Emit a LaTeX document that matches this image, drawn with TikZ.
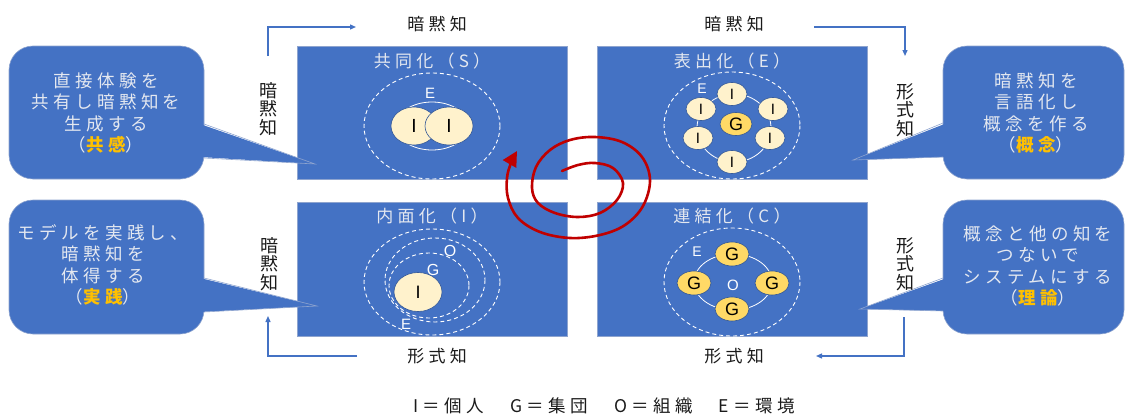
\documentclass[tikz,border=0pt]{standalone}
\usepackage{fontspec}
\setmainfont{Noto Sans CJK JP}[LetterSpace=25]
\newfontfamily\jpn{Noto Sans CJK JP}
\newfontfamily\lat{Liberation Sans}
\usetikzlibrary{arrows.meta,shapes.geometric}
\definecolor{boxblue}{HTML}{4472C4}
\definecolor{qedge}{HTML}{8EA4CF}
\definecolor{paletext}{HTML}{E4E8F0}
\definecolor{goldtext}{HTML}{FFC000}
\definecolor{cream}{HTML}{FFF2CC}
\definecolor{goldfill}{HTML}{FFD966}
\definecolor{cedge}{HTML}{2F5597}
\definecolor{spiralred}{HTML}{C00000}
\definecolor{labk}{HTML}{1A1A1A}
\begin{document}
\begin{tikzpicture}[x=1pt,y=-1pt,
  quad/.style={draw=qedge,line width=0.6pt,fill=boxblue,minimum width=270,minimum height=133,inner sep=0},
  qtitle/.style={text=paletext,font=\fontsize{17}{20}\selectfont,inner sep=0},
  bubble/.style={fill=boxblue,draw=qedge,line width=0.6pt,rounded corners=24,inner sep=0},
  bubtext/.style={text=paletext,align=center,font=\fontsize{17.5}{21.5}\selectfont,inner sep=0},
  vlabel/.style={align=center,font=\jpn\fontsize{18}{18.5}\selectfont,text=labk,inner sep=0},
  hlabel/.style={font=\fontsize{17}{20}\selectfont,text=labk,inner sep=0},
  flowarrow/.style={draw=boxblue,line width=1.3pt,-{Triangle[length=6pt,width=5pt]}},
  envline/.style={draw=white,dash pattern=on 4pt off 3pt,line width=0.9pt},
  ringline/.style={draw=white,line width=0.8pt},
  indiv/.style={ellipse,fill=cream,draw=cedge,line width=0.6pt,inner sep=0,text=black},
  grp/.style={ellipse,fill=goldfill,draw=cedge,line width=0.6pt,inner sep=0,text=black},
  letterlab/.style={text=white,font=\lat\fontsize{15}{15}\selectfont,inner sep=0},
  spiralline/.style={draw=spiralred,line width=2.6pt,line cap=round,-{Triangle[length=15pt,width=15pt]}}
]
\useasboundingbox (0,0) rectangle (1126,415);

% ---- quadrant boxes
\node[quad] (S) at (432,112.5) {};
\node[quad] (E) at (732,112.5) {};
\node[quad,minimum height=134] (I) at (432,269) {};
\node[quad,minimum height=134] (C) at (732,269) {};

\node[qtitle] (St) at (432,61) {共同化（S）};
\node[qtitle] (Et) at (732,61) {表出化（E）};
\node[qtitle] (It) at (432,216) {内面化（I）};
\node[qtitle] (Ct) at (732,216) {連結化（C）};

% ---- Socialization content
\draw[envline] (432,126) ellipse [x radius=68, y radius=53];
\draw[ringline] (432,126) ellipse [x radius=36, y radius=24];
\node[letterlab] (SE) at (430,93) {E};
\node[indiv,minimum width=46,minimum height=38,font=\lat\fontsize{19}{19}\selectfont] (S1) at (414,126) {I};
\node[indiv,minimum width=48,minimum height=38,font=\lat\fontsize{19}{19}\selectfont] (S2) at (449,126) {I};

% ---- Externalization content
\draw[envline] (732,125.5) ellipse [x radius=68, y radius=53.5];
\draw[ringline] (734,128) ellipse [x radius=37, y radius=34];
\node[letterlab,font=\lat\fontsize{14}{14}\selectfont] (EE) at (702,89) {E};
\node[grp,minimum width=32,minimum height=23,font=\lat\fontsize{18}{18}\selectfont] (EG) at (736,124) {G};
\foreach \n/\p in {e1/{(732,94)},e2/{(701,109)},e3/{(773,109)},e4/{(698,138)},e5/{(770,138)},e6/{(732,162)}}
  \node[indiv,minimum width=30,minimum height=23,font=\lat\fontsize{15}{15}\selectfont] (\n) at \p {I};

% ---- Internalization content
\draw[envline] (432,282) ellipse [x radius=68, y radius=53];
\draw[envline] (435,280) ellipse [x radius=50, y radius=42];
\draw[envline] (429,285.5) ellipse [x radius=40, y radius=32.5];
\node[letterlab,font=\lat\fontsize{16}{16}\selectfont] (IO) at (450,251) {O};
\node[letterlab,font=\lat\fontsize{16}{16}\selectfont] (IG) at (433,270) {G};
\node[letterlab,font=\lat\fontsize{15}{15}\selectfont] (IE) at (406,324) {E};
\node[indiv,minimum width=48,minimum height=39,font=\lat\fontsize{18}{18}\selectfont] (I1) at (418,292) {I};

% ---- Combination content
\draw[envline] (732,282) ellipse [x radius=68, y radius=54];
\draw[ringline] (733,282) ellipse [x radius=39, y radius=28];
\node[letterlab,font=\lat\fontsize{14}{14}\selectfont] (CE) at (697,252) {E};
\node[letterlab,font=\lat\fontsize{15}{15}\selectfont] (CO) at (733,285) {O};
\foreach \n/\p in {g1/{(732,254)},g2/{(694,283)},g3/{(772,283)},g4/{(732,309)}}
  \node[grp,minimum width=34,minimum height=24,font=\lat\fontsize{18}{18}\selectfont] (\n) at \p {G};

% ---- callouts
\node[bubble,minimum width=195,minimum height=133] (cS) at (106.5,112.5) {};
\fill[boxblue] (200,124) -- (315,164) -- (200,157) -- cycle;
\draw[qedge,line width=0.6pt] (204,124) -- (315,164) -- (204,158);
\node[bubtext] (cSt) at (106,113) {直接体験を\\共有し暗黙知を\\生成する\\（\textcolor{goldtext}{\bfseries 共感}）};

\node[bubble,minimum width=181,minimum height=133] (cE) at (1033.5,112.5) {};
\fill[boxblue] (947,123) -- (853,160) -- (947,157) -- cycle;
\draw[qedge,line width=0.6pt] (943,123) -- (853,160) -- (943,157);
\node[bubtext] (cEt) at (1036,113) {暗黙知を\\言語化し\\概念を作る\\（\textcolor{goldtext}{\bfseries 概念}）};

\node[bubble,minimum width=195,minimum height=134] (cI) at (106.5,267) {};
\fill[boxblue] (200,278) -- (317,306) -- (200,312) -- cycle;
\draw[qedge,line width=0.6pt] (204,278) -- (317,306) -- (204,312);
\node[bubtext] (cIt) at (103,265) {モデルを実践し、\\暗黙知を\\体得する\\（\textcolor{goldtext}{\bfseries 実践}）};

\node[bubble,minimum width=181,minimum height=134] (cC) at (1033.5,267) {};
\fill[boxblue] (947,278) -- (860,309) -- (947,311) -- cycle;
\draw[qedge,line width=0.6pt] (943,278) -- (860,309) -- (943,311);
\node[bubtext] (cCt) at (1038,266) {概念と他の知を\\つないで\\システムにする\\（\textcolor{goldtext}{\bfseries 理論}）};

% ---- side labels
\node[vlabel] (vS) at (268,109) {暗\\黙\\知};
\node[vlabel] (vE) at (905,110) {形\\式\\知};
\node[vlabel] (vI) at (269,264) {暗\\黙\\知};
\node[vlabel] (vC) at (905,264) {形\\式\\知};

\node[hlabel] (tS) at (437,24) {暗黙知};
\node[hlabel] (tE) at (734,24) {暗黙知};
\node[hlabel] (bI) at (437,356) {形式知};
\node[hlabel] (bC) at (734,356) {形式知};

% ---- flow connectors
\coordinate (a1) at (268,56); \coordinate (a1e) at (356,27);
\draw[flowarrow] (a1) |- (a1e);
\coordinate (b1) at (814,27); \coordinate (b1e) at (905,56);
\draw[flowarrow] (b1) -| (b1e);
\coordinate (c1) at (904,317); \coordinate (c1e) at (816,356);
\draw[flowarrow] (c1) |- (c1e);
\coordinate (d1) at (357,356); \coordinate (d1e) at (268,316);
\draw[flowarrow] (d1) -| (d1e);

% ---- spiral
\draw[spiralline] plot[smooth,tension=0.6] coordinates {(562,171) (578,165) (595,163) (613,168) (623,183) (617,200) (600,213) (578,217) (555,213) (538,203) (532,188) (536,167) (550,150) (570,140) (595,137) (622,142) (642,157) (650,180) (643,206) (625,225) (600,235) (570,238) (540,232) (518,218) (508,198) (507,178) (511,163) (517,151)};

% ---- legend
\node[hlabel,font=\fontsize{17.5}{20}\selectfont] (leg) at (604,406) {I＝個人　G＝集団　O＝組織　E＝環境};
\end{tikzpicture}
\end{document}
